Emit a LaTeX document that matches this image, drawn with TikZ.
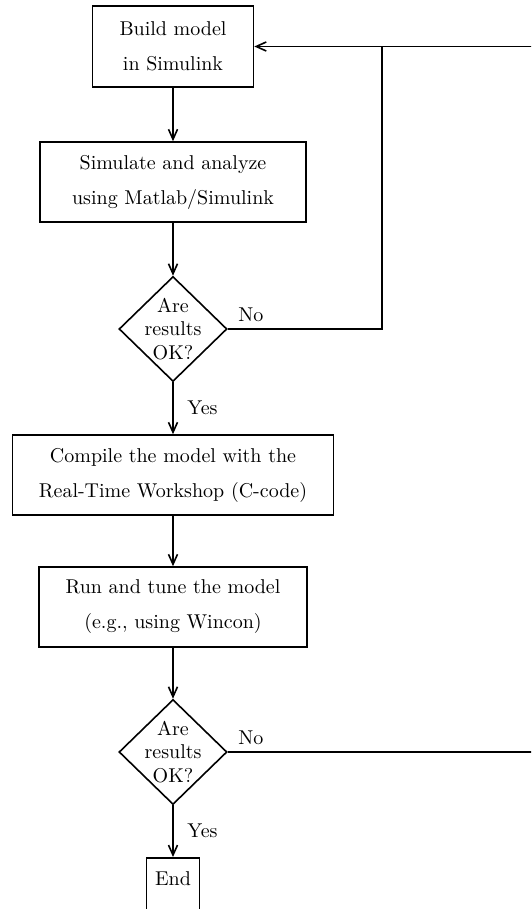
\documentclass[tikz,border=0pt]{standalone}
\usetikzlibrary{arrows.meta,shapes.geometric}
\begin{document}
\begin{tikzpicture}[x=0.5pt,y=-0.5pt,
  box/.style={draw, line width=0.8pt, align=center, font=\fontsize{10}{17.5}\selectfont, inner sep=0pt},
  dec/.style={draw, diamond, minimum width=54pt, minimum height=52.5pt, inner sep=0pt, line width=0.8pt,
    label={[align=center, font=\fontsize{10}{11.75}\selectfont]center:{Are\\results\\OK?}}},
  flow/.style={draw, line width=0.8pt, -{Straight Barb[length=5pt,width=4.5pt]}},
  plain/.style={draw, line width=0.8pt},
  lbl/.style={font=\fontsize{10}{12}\selectfont}
]
\useasboundingbox (0,0) rectangle (531,909);
\clip (0,0) rectangle (531,909);

\node[box, minimum width=80.5pt, minimum height=40.5pt] (b1) at (173,46.5) {Build model\\in Simulink};
\node[box, minimum width=133pt, minimum height=40pt] (b2) at (173,182) {Simulate and analyze\\using Matlab/Simulink};
\node[dec] (d1) at (173,329) {};
\node[box, minimum width=160.5pt, minimum height=40pt] (b3) at (173,475) {Compile the model with the\\Real-Time Workshop (C-code)};
\node[box, minimum width=134pt, minimum height=40pt] (b4) at (173,607) {Run and tune the model\\(e.g., using Wincon)};
\node[dec] (d2) at (173,752) {};
\node[draw, line width=0.8pt, anchor=north, minimum width=26.5pt, inner sep=0pt, text height=14pt, text depth=22.5pt] (e) at (173,857) {End};

\coordinate (r1) at (540,46.5);
\coordinate (j1) at (382,46.5);
\coordinate (r2) at (540,752);

\draw[flow] (b1) -- (b2);
\draw[flow] (b2) -- (d1);
\draw[flow] (r1) -- (b1.east);
\draw[plain] (d1.east) -- node[lbl, above right, at start, xshift=1.5pt]{No} (d1.east -| j1) -- (j1);
\draw[flow] (d1) -- node[lbl, right, xshift=3.5pt]{Yes} (b3);
\draw[flow] (b3) -- (b4);
\draw[flow] (b4) -- (d2);
\draw[plain] (d2.east) -- node[lbl, above right, at start, xshift=1.5pt]{No} (r2);
\draw[flow] (d2) -- node[lbl, right, xshift=3.5pt]{Yes} (e);
\end{tikzpicture}
\end{document}
